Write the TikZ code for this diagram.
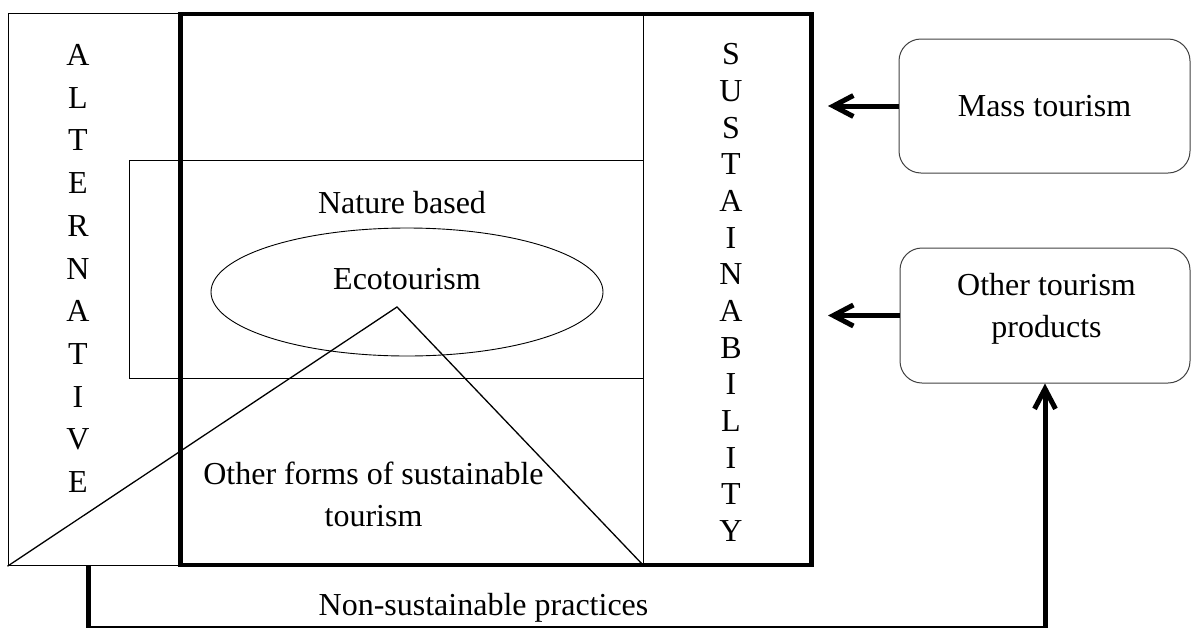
\documentclass[tikz,border=0pt]{standalone}
\usepackage{fontspec}
\setmainfont{Liberation Serif}
\usetikzlibrary{arrows.meta,shapes.geometric}
\begin{document}
\begin{tikzpicture}[x=1pt,y=-1pt,
  lbl/.style={font=\fontsize{32}{42}\selectfont, inner sep=0pt, align=center},
  thinbox/.style={draw, line width=1pt, inner sep=0pt},
  framebox/.style={draw, line width=4.2pt, inner sep=0pt},
  rbox/.style={draw=black!75, line width=1pt, rounded corners=22pt, inner sep=0pt},
  arr/.style={line width=5pt, -{Straight Barb[length=20pt,width=21pt]}},
  tri/.style={line width=1.3pt}]
\useasboundingbox (0,0) rectangle (1193,627);
\clip (0,0) rectangle (1193,627);
% left (alternative) box
\node[thinbox, minimum width=172.5pt, minimum height=552.4pt] (alt) at (94.25,289.5) {};
% nature based box
\node[thinbox, minimum width=514pt, minimum height=218pt] (nature) at (386,269) {};
% main frame
\node[framebox, minimum width=631pt, minimum height=551pt] (frame) at (496,289.5) {};
% divider of sustainability column
\coordinate (divtop) at (643,14);
\coordinate (divbot) at (643,565);
\draw[line width=1pt] (divtop) -- (divbot);
% ecotourism ellipse
\node[draw, ellipse, line width=0.9pt, minimum width=392pt, minimum height=128pt, inner sep=0pt] (eco) at (407,292) {};
% triangle
\coordinate (apex) at (397,307);
\draw[tri] (alt.south west) -- (apex) -- (divbot);
% texts
\node[lbl, anchor=base] (naturetxt) at (402,213) {Nature based};
\node[lbl, anchor=base] (ecotxt) at (407,289) {Ecotourism};
\node[lbl] (otherforms) at (373.5,494.5) {Other forms of sustainable\\tourism};
\node[lbl, anchor=base] (nsp) at (483.5,615) {Non-sustainable practices};
\node[lbl, font=\fontsize{32}{42.7}\selectfont] (alttxt) at (78,268.5) {A\\L\\T\\E\\R\\N\\A\\T\\I\\V\\E};
\node[lbl, font=\fontsize{32}{36.67}\selectfont] (sustxt) at (731,292.6) {S\\U\\S\\T\\A\\I\\N\\A\\B\\I\\L\\I\\T\\Y};
% right boxes
\node[rbox, lbl, minimum width=291pt, minimum height=134pt] (mass) at (1044.5,106) {Mass tourism};
\node[rbox, minimum width=290pt, minimum height=135pt] (other) at (1045,315.5) {};
\node[lbl] (othertxt) at (1046.5,309) {Other tourism\\products};
% arrows into sustainability
\coordinate (in1) at (828,106);
\coordinate (in2) at (828,315.5);
\draw[arr] (mass.west) -- (in1);
\draw[arr] (other.west) -- (in2);
% non-sustainable practices connector
\coordinate (ns0) at (88,565.7);
\coordinate (ns1) at (88,628.6);
\draw[arr] (ns0) -- (ns1) -| (other.south);
\end{tikzpicture}
\end{document}
